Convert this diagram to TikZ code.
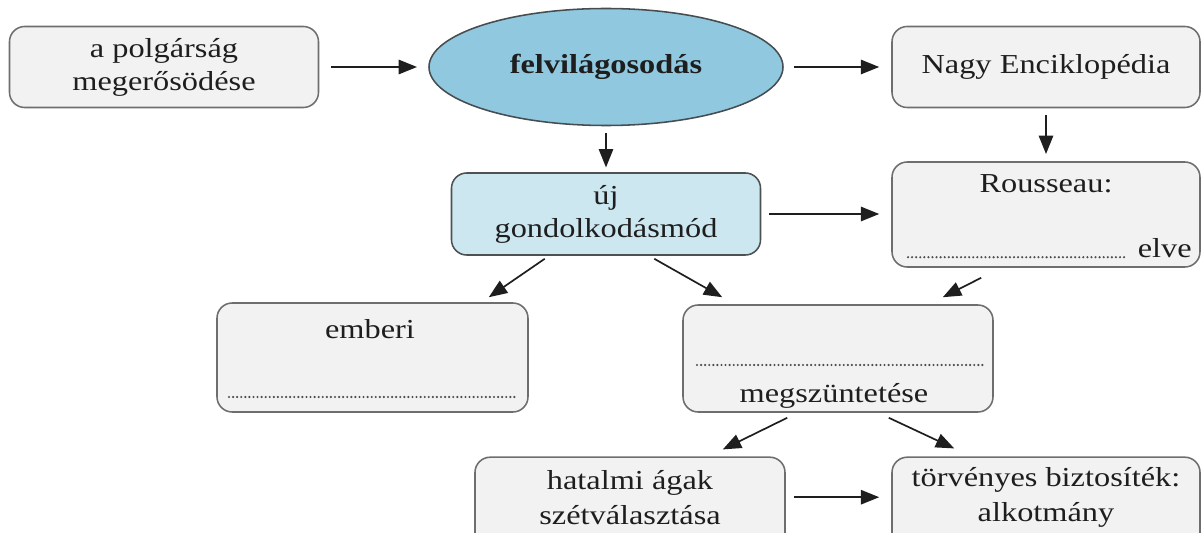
\documentclass[tikz,border=0pt]{standalone}
\usepackage{fontspec}
\setmainfont{Liberation Serif}[FakeStretch=1.18]
\usetikzlibrary{arrows.meta,shapes.geometric}

\definecolor{boxgray}{HTML}{F2F2F2}
\definecolor{linegray}{HTML}{6E6E6E}
\definecolor{felvblue}{HTML}{8FC8DF}
\definecolor{ujblue}{HTML}{CDE7F1}
\definecolor{inkgray}{HTML}{1E1E1E}

\newcommand{\mapfont}{\fontsize{19.5}{23.5}\selectfont}

\tikzset{
  box/.style={draw=linegray, line width=1.1pt, fill=boxgray, rounded corners=0.38cm,
    align=center, text=inkgray, inner sep=0pt},
  felvbox/.style={draw=linegray!80!felvblue!60!black, line width=1.1pt, fill=felvblue,
    ellipse, inner sep=0pt, text=inkgray, font=\mapfont\bfseries},
  ujbox/.style={box, fill=ujblue, draw=linegray!80!ujblue!60!black},
  arr/.style={draw=inkgray, line width=1.2pt, -{Triangle[length=4.6mm,width=3.6mm]}},
  dotline/.style={draw=black!70, line width=1.7pt, line cap=round,
    dash pattern=on 0pt off 2.9pt}
}

\begin{document}
\begin{tikzpicture}[font=\mapfont]
\useasboundingbox (0,0) rectangle (30.025,13.3);

% we draw the top row
\node (polgar) [box, minimum width=7.725cm, minimum height=2.025cm] at (4.1,11.625)
  {a polgárság\\megerősödése};
\node (felv) [felvbox, minimum width=8.85cm, minimum height=2.925cm] at (15.15,11.625)
  {felvilágosodás};
\node (nagy) [box, minimum width=7.7cm, minimum height=2.025cm] at (26.15,11.625)
  {Nagy Enciklopédia};

% second row
\node (uj) [ujbox, minimum width=7.725cm, minimum height=2.05cm] at (15.15,7.95)
  {új\\gondolkodásmód};
\node (rousseau) [box, minimum width=7.7cm, minimum height=2.625cm] at (26.15,7.9375) {};
\node (rtitle) [anchor=base, text=inkgray] at (26.15,8.475) {Rousseau:};
\node (relve) [anchor=base east, text=inkgray, inner sep=0pt] at (29.8,6.85) {elve};
\draw[dotline] (22.7,6.87) -- (28.15,6.87);

% third row
\node (emberi) [box, minimum width=7.775cm, minimum height=2.725cm] at (9.3125,4.3625) {};
\node (etitle) [anchor=base, text=inkgray] at (9.25,4.85) {emberi};
\draw[dotline] (5.725,3.375) -- (12.925,3.375);

\node (megsz) [box, minimum width=7.75cm, minimum height=2.675cm] at (20.95,4.3375) {};
\draw[dotline] (17.425,4.175) -- (24.6,4.175);
\node (mtitle) [anchor=base, text=inkgray] at (20.85,3.25) {megszüntetése};

% bottom row
\node (hatalmi) [box, minimum width=7.75cm, minimum height=2.3cm] at (15.75,0.72) {};
\node (htext) [align=center, text=inkgray] at (15.75,0.86)
  {hatalmi ágak\\[1pt]szétválasztása};
\node (torveny) [box, minimum width=7.7cm, minimum height=2.3cm] at (26.15,0.72) {};
\node (ttext) [align=center, text=inkgray] at (26.15,0.86)
  {törvényes biztosíték:\\[1pt]alkotmány};

% arrows
\draw[arr, shorten <=0.3cm, shorten >=0.28cm] (polgar.east) -- (felv.west);
\draw[arr, shorten <=0.25cm, shorten >=0.3cm] (felv.east) -- (nagy.west);
\draw[arr, shorten <=0.18cm, shorten >=0.12cm] (felv.south) -- (uj.north);
\draw[arr, shorten <=0.18cm, shorten >=0.18cm] (nagy.south) -- (rousseau.north);
\draw[arr, shorten <=0.2cm, shorten >=0.3cm] (uj.east) -- (uj.east -| rousseau.west);
\draw[arr] ([xshift=2.35cm,yshift=-0.075cm]uj.south west)
  -- ([xshift=-1cm,yshift=0.125cm]emberi.north east);
\draw[arr] ([xshift=-2.675cm,yshift=-0.075cm]uj.south east)
  -- ([xshift=1cm,yshift=0.175cm]megsz.north west);
\draw[arr] ([xshift=2.25cm,yshift=-0.25cm]rousseau.south west)
  -- ([xshift=-1.275cm,yshift=0.175cm]megsz.north east);
\draw[arr] ([xshift=2.625cm,yshift=-0.125cm]megsz.south west)
  -- ([xshift=-1.575cm,yshift=0.175cm]hatalmi.north east);
\draw[arr] ([xshift=-2.625cm,yshift=-0.125cm]megsz.south east)
  -- ([xshift=1.575cm,yshift=0.2cm]torveny.north west);
\draw[arr, shorten <=0.2cm, shorten >=0.3cm] ([yshift=0.15cm]hatalmi.east)
  -- ([yshift=0.15cm]torveny.west);

\end{tikzpicture}
\end{document}
